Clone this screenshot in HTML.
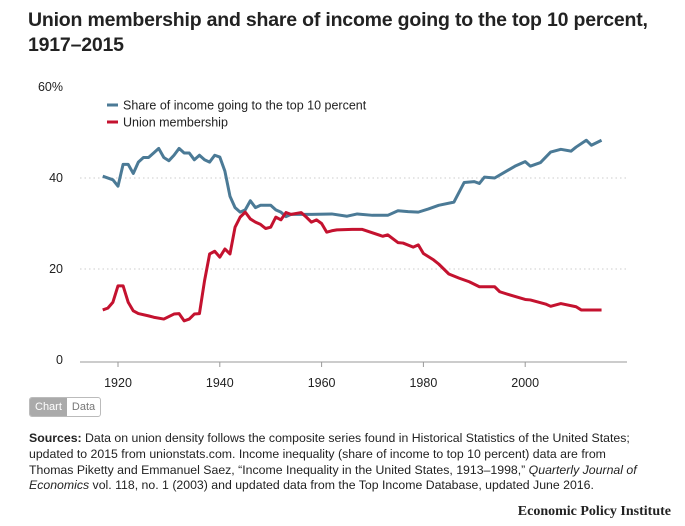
<!DOCTYPE html>
<html><head><meta charset="utf-8"><style>
body{margin:0;background:#fff;font-family:"Liberation Sans",sans-serif;width:685px;height:526px;overflow:hidden;position:relative}
h1{position:absolute;left:28px;top:8px;margin:0;font-size:19.5px;line-height:25px;font-weight:bold;color:#222;letter-spacing:-0.2px}
#src{position:absolute;left:29px;top:431px;width:660px;font-size:12.3px;line-height:15.8px;color:#222;white-space:nowrap}
#logo{position:absolute;right:14px;top:504px;font-family:"Liberation Serif",serif;font-weight:bold;font-size:14px;color:#222}
#tog{position:absolute;left:29px;top:397px;height:18px;border:1px solid #bbb;border-radius:3px;font-size:11px;display:flex;overflow:hidden}
#tog span{padding:2px 5px;line-height:14px}
</style></head><body>
<h1>Union membership and share of income going to the top 10 percent,<br>1917–2015</h1>
<svg id="c" width="685" height="400" style="position:absolute;left:0;top:0"></svg>
<div id="tog"><span style="background:#aaa;color:#fff">Chart</span><span style="color:#777">Data</span></div>
<div id="src"><b>Sources:</b> Data on union density follows the composite series found in Historical Statistics of the United States;<br>updated to 2015 from unionstats.com. Income inequality (share of income to top 10 percent) data are from<br>Thomas Piketty and Emmanuel Saez, “Income Inequality in the United States, 1913–1998,” <i>Quarterly Journal of</i><br><i>Economics</i> vol. 118, no. 1 (2003) and updated data from the Top Income Database, updated June 2016.</div>
<div id="logo">Economic Policy Institute</div>
<script>
const incomeYears=[1917,1919,1920,1921,1922,1923,1924,1925,1926,1927,1928,1929,1930,1931,1932,1933,1934,1935,1936,1937,1938,1939,1940,1941,1942,1943,1944,1945,1946,1947,1948,1950,1951,1952,1953,1954,1958,1962,1965,1967,1970,1973,1975,1977,1979,1981,1983,1986,1988,1990,1991,1992,1994,1996,1998,2000,2001,2003,2005,2007,2009,2010,2012,2013,2015];
const incomeShare=[40.4,39.6,38.2,43,43,41,43.5,44.5,44.5,45.5,46.5,44.5,43.8,45,46.5,45.5,45.5,44,45,44,43.5,45,44.6,41.5,36,33.5,32.5,33,35,33.5,34,34,33,32.5,31.5,32,32,32.1,31.6,32.1,31.8,31.8,32.8,32.6,32.5,33.2,34,34.7,39,39.2,38.8,40.2,40,41.3,42.6,43.6,42.6,43.4,45.7,46.3,45.9,46.8,48.3,47.2,48.3];
const unionYears=[1917,1918,1919,1920,1921,1922,1923,1924,1926,1927,1929,1931,1932,1933,1934,1935,1936,1937,1938,1939,1940,1941,1942,1943,1944,1945,1946,1947,1948,1949,1950,1951,1952,1953,1954,1956,1957,1958,1959,1960,1961,1962,1963,1966,1968,1972,1973,1975,1976,1978,1979,1980,1982,1983,1985,1987,1989,1991,1994,1995,1997,2000,2001,2004,2005,2007,2010,2011,2015];
const unionShare=[11,11.4,12.7,16.3,16.3,12.7,10.8,10.2,9.7,9.4,9,10.1,10.2,8.6,9,10.1,10.2,17.4,23.3,23.9,22.6,24.4,23.3,29.2,31.4,32.5,31,30.3,29.8,28.9,29.2,31.4,30.8,32.4,32,32.4,31.4,30.3,30.8,30,28.1,28.4,28.6,28.7,28.7,27.2,27.5,25.8,25.7,24.8,25.3,23.4,22,21.1,18.9,18,17.2,16.1,16.1,15,14.3,13.3,13.2,12.3,11.8,12.4,11.7,11,11];
const yTicks=[0,20,40,60];
const yTickLabels=["0","20","40","60%"];
const xTicks=[1920,1940,1960,1980,2000];
const NS="http://www.w3.org/2000/svg";
const svg=document.getElementById('c');
const X=y=>118+(y-1920)*5.09;
const Y=v=>360-v*4.55;
function el(t,a){const e=document.createElementNS(NS,t);for(const k in a)e.setAttribute(k,a[k]);svg.appendChild(e);return e;}
yTicks.forEach((t,i)=>{
  if(t>0&&t<60){const g=el('line',{x1:80,x2:627,y1:Y(t),y2:Y(t),stroke:'#ccc','stroke-dasharray':'1.5,3'});
  
  }
  const l=el('text',{x:63,y:Y(t)+4,'text-anchor':'end','font-size':12.5,fill:'#222'});l.textContent=yTickLabels[i];
  
  
});
const ax=el('line',{x1:80,x2:627,y1:362,y2:362,stroke:'#999'});


xTicks.forEach(t=>{
  const tk=el('line',{x1:X(t),x2:X(t),y1:362,y2:367,stroke:'#999'});
  
  
  const l=el('text',{x:X(t),y:387,'text-anchor':'middle','font-size':12.5,fill:'#222'});l.textContent=t;
  
  
});
function line(xs,vs,c,n){const p=el('polyline',{points:xs.map((y,i)=>X(y)+','+Y(vs[i])).join(' '),fill:'none',stroke:c,'stroke-width':3,'stroke-linejoin':'round'});
  
  }
line(incomeYears,incomeShare,'#4b7a96','income-share-line');
line(unionYears,unionShare,'#c4122f','union-membership-line');
[['Share of income going to the top 10 percent','#4b7a96',105],['Union membership','#c4122f',122]].forEach(([t,c,y],i)=>{
  const s=el('line',{x1:107,x2:118,y1:y,y2:y,stroke:c,'stroke-width':3});
  
  
  const l=el('text',{x:123,y:y+4.5,'font-size':12.5,fill:'#222'});l.textContent=t;
  
  
});
</script>
</body></html>
